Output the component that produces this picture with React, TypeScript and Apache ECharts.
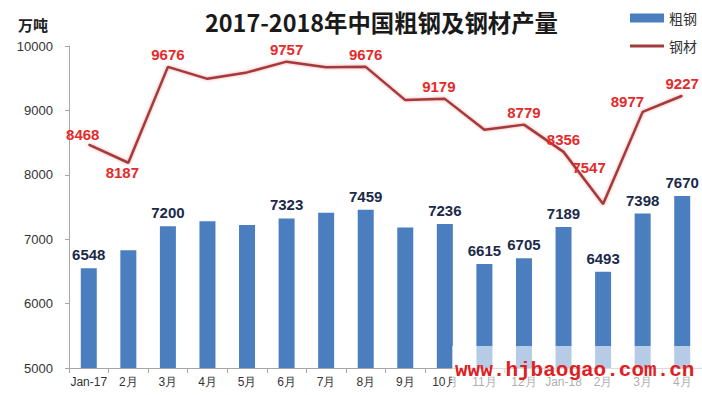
import React, { useEffect, useRef } from "react";
import * as echarts from "echarts";

const categories = ["Jan-17", "2月", "3月", "4月", "5月", "6月", "7月", "8月", "9月", "10月", "11月", "12月", "Jan-18", "2月", "3月", "4月"];
const crudeSteel = [6548, 6830, 7200, 7278, 7220, 7323, 7410, 7459, 7180, 7236, 6615, 6705, 7189, 6493, 7398, 7670];
const crudeLabeled = [true, false, true, false, false, true, false, true, false, true, true, true, true, true, true, true];
const steelProducts = [8468, 8187, 9676, 9490, 9590, 9757, 9670, 9676, 9160, 9179, 8700, 8779, 8356, 7547, 8977, 9227];
const steelLabeled = [true, true, true, false, false, true, false, true, false, true, false, true, true, true, true, true];
const yTicks = { min: 5000, max: 10000, interval: 1000 };

const lineLabelPos: any[] = [
  { position: "top", offset: [-6, 2] },
  { position: "bottom", offset: [-6, -2] },
  { position: "top" },
  null,
  null,
  { position: "top" },
  null,
  { position: "top" },
  null,
  { position: "top", offset: [-6, 0] },
  null,
  { position: "top" },
  { position: "top" },
  { position: "top", offset: [-14, -24] },
  { position: "left", offset: [6, -10] },
  { position: "top" },
];

export default function App() {
  const ref = useRef<HTMLDivElement>(null);
  useEffect(() => {
    if (!ref.current) return;
    const chart = echarts.init(ref.current, null, { renderer: "svg" });
    const font = "'Liberation Sans', Arial, sans-serif";
    const barData = crudeSteel.map((v, i) => ({
      value: v,
      label: { show: crudeLabeled[i] },
    }));
    const lineData = steelProducts.map((v, i) => {
      const p = lineLabelPos[i];
      return steelLabeled[i] && p ? { value: v, label: { show: true, ...p } } : { value: v, label: { show: false } };
    });
    chart.setOption({
      animation: false,
      backgroundColor: "#ffffff",
      title: {
        text: "2017-2018年中国粗钢及钢材产量",
        left: 200,
        top: 5,
        textStyle: { fontFamily: "'Noto Sans CJK SC', sans-serif", fontWeight: "bold", fontSize: 23.4, color: "#1a1a1a" },
      },
      legend: {
        orient: "vertical",
        right: 0,
        top: 6,
        itemWidth: 34,
        itemHeight: 9,
        itemGap: 14,
        textStyle: { fontFamily: "'Noto Sans CJK SC', sans-serif", fontSize: 14, color: "#333" },
        data: [
          { name: "粗钢", icon: "rect" },
          { name: "钢材", icon: "path://M0,0 L34,0 L34,3 L0,3 Z" },
        ],
      },
      graphic: [
        {
          type: "text",
          left: 18,
          top: 17,
          style: { text: "万吨", font: "bold 15px 'Noto Sans CJK SC', sans-serif", fill: "#222" },
        },
        {
          type: "rect",
          z: 100,
          shape: { x: 452, y: 346, width: 252, height: 50 },
          style: { fill: "rgba(255,255,255,0.6)" },
        },
        {
          type: "text",
          z: 101,
          x: 455,
          y: 370,
          style: {
            text: "www.hjbaogao.com.cn",
            font: "bold 21px 'Liberation Mono', 'DejaVu Sans Mono', monospace",
            fill: "#e0201f",
            verticalAlign: "middle",
          },
        },
      ],
      grid: { left: 69, right: -3, top: 46, bottom: 27 },
      xAxis: {
        type: "category",
        data: categories,
        boundaryGap: true,
        axisLine: { lineStyle: { color: "#a6a6a6" } },
        axisTick: { show: true, length: 5, lineStyle: { color: "#a6a6a6" } },
        axisLabel: { fontFamily: font, fontSize: 12, color: "#333", margin: 8, interval: 0 },
      },
      yAxis: {
        type: "value",
        min: yTicks.min,
        max: yTicks.max,
        interval: yTicks.interval,
        splitLine: { show: false },
        axisLine: { show: true, lineStyle: { color: "#a6a6a6" } },
        axisTick: { show: true, length: 4, lineStyle: { color: "#a6a6a6" } },
        axisLabel: { fontFamily: font, fontSize: 13, color: "#333", margin: 16, formatter: (v: number) => String(v) },
      },
      series: [
        {
          name: "粗钢",
          type: "bar",
          data: barData,
          barWidth: 16,
          itemStyle: { color: "#4a7ebf" },
          label: {
            position: "top",
            distance: 6,
            fontFamily: font,
            fontWeight: "bold",
            fontSize: 15,
            color: "#1b2a4a",
          },
        },
        {
          name: "钢材",
          type: "line",
          data: lineData,
          symbol: "circle",
          symbolSize: 1,
          showSymbol: true,
          lineStyle: { color: "#a33b3d", width: 2.5, shadowColor: "rgba(230,60,60,0.5)", shadowBlur: 3 },
          itemStyle: { color: "#a33b3d" },
          label: {
            distance: 4,
            fontFamily: font,
            fontWeight: "bold",
            fontSize: 15,
            color: "#e52a2a",
          },
        },
      ],
    });
    return () => chart.dispose();
  }, []);
  return <div ref={ref} style={{ width: 702, height: 395, position: "fixed", left: 0, top: 0 }} />;
}
